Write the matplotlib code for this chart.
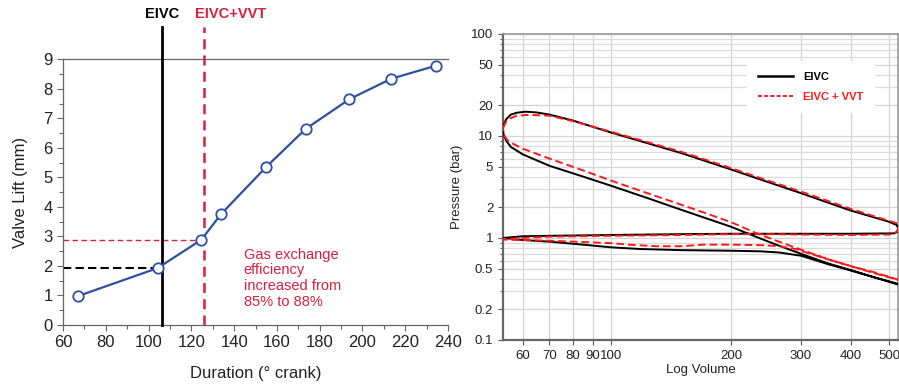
import matplotlib
matplotlib.use("Agg")
import matplotlib.pyplot as plt
from matplotlib.ticker import FixedLocator, NullFormatter, FixedFormatter, MultipleLocator
from matplotlib.lines import Line2D

plt.rcParams['font.family'] = ['Liberation Sans', 'DejaVu Sans']

# ---------------- Left panel data ----------------
duration = [67.0, 104.3, 124.7, 133.8, 154.8, 173.4, 193.9, 213.4, 234.2]
valve_lift = [0.98, 1.93, 2.89, 3.75, 5.34, 6.64, 7.65, 8.34, 8.78]
eivc_duration = 106.3
vvt_duration = 126.0
eivc_lift = 1.92
vvt_lift = 2.88
annotation = "Gas exchange\nefficiency\nincreased from\n85% to 88%"

# ---------------- Right panel data (p-V loops) ----------------
eivc_vol = [53.5, 54.5, 56, 58, 61, 65, 70, 80, 100, 150, 200, 237, 300, 398, 497, 522, 526, 524, 515,
            400, 300, 200, 150, 100, 70, 60, 55, 53.5,
            55, 60, 70, 85, 100, 118, 150, 200, 237, 265, 285, 300, 350, 400, 460, 526,
            526, 460, 400, 350, 300, 260, 237, 220, 200, 175, 150, 125, 100, 85, 70, 60, 56, 54.5, 53.7, 53.5, 53.5]
eivc_p = [12.3, 14.6, 16.2, 16.9, 17.3, 17.0, 16.2, 14.2, 10.8, 6.8, 4.7, 3.75, 2.75, 1.87, 1.45, 1.34, 1.25, 1.15, 1.11,
          1.10, 1.10, 1.10, 1.09, 1.07, 1.05, 1.04, 1.01, 1.0,
          0.99, 0.955, 0.92, 0.86, 0.81, 0.78, 0.76, 0.75, 0.74, 0.72, 0.69, 0.67, 0.555, 0.48, 0.41, 0.35,
          0.355, 0.41, 0.485, 0.565, 0.70, 0.86, 0.99, 1.11, 1.29, 1.54, 1.89, 2.42, 3.25, 4.0, 5.1, 6.6, 7.8, 9.0, 10.3, 11.5, 12.3]

vvt_vol = [53.5, 54.5, 56, 58, 62, 70, 80, 100, 150, 200, 237, 300, 400, 497, 524, 527, 525, 515, 500,
           400, 300, 250, 200, 150, 100, 70, 60, 55, 53.5,
           55, 60, 70, 100, 111, 130, 150, 170, 200, 240, 265, 290, 350, 400, 460, 526,
           526, 460, 400, 350, 300, 260, 230, 200, 175, 150, 125, 100, 85, 70, 60, 57, 55, 54, 53.5, 53.5]
vvt_p = [12.0, 13.8, 15.0, 15.8, 16.1, 15.8, 14.0, 11.0, 7.0, 4.85, 3.87, 2.85, 1.93, 1.48, 1.39, 1.3, 1.18, 1.1, 1.08,
         1.07, 1.08, 1.09, 1.09, 1.07, 1.05, 1.03, 1.0, 0.98, 0.97,
         0.96, 0.955, 0.94, 0.89, 0.86, 0.83, 0.83, 0.86, 0.86, 0.85, 0.83, 0.78, 0.62, 0.53, 0.46, 0.39,
         0.39, 0.45, 0.53, 0.62, 0.77, 0.94, 1.13, 1.43, 1.72, 2.12, 2.7, 3.65, 4.6, 6.0, 7.5, 8.3, 9.0, 10.0, 11.5, 12.0]

x_tick_vals = [60, 70, 80, 90, 100, 200, 300, 400, 500]
x_tick_labels = ["60", "70", "80", "90", "100", "200", "300", "400", "500"]
y_tick_vals = [0.1, 0.2, 0.5, 1, 2, 5, 10, 20, 50, 100]
y_tick_labels = ["0.1", "0.2", "0.5", "1", "2", "5", "10", "20", "50", "100"]

fig = plt.figure(figsize=(8.99, 3.84), dpi=100)

# ================= Left panel =================
ax1 = fig.add_axes([0.0701, 0.1536, 0.4283, 0.692])
blue = "#2F4EA6"
crimson = "#D8203C"
ax1.plot(duration, valve_lift, color=blue, lw=1.6, marker='o', ms=7.5,
         mfc='white', mec=blue, mew=1.3, zorder=4)
ax1.plot([eivc_duration, eivc_duration], [0, 10.1], color='black', lw=2, clip_on=False, zorder=3)
ax1.plot([vvt_duration, vvt_duration], [0, 10.1], color=crimson, lw=1.8, ls=(0, (4, 2.5)),
         clip_on=False, zorder=3)
ax1.plot([60, eivc_duration], [eivc_lift, eivc_lift], color='black', lw=1.5, ls=(0, (4, 2)), zorder=2)
ax1.plot([60, vvt_duration], [vvt_lift, vvt_lift], color=crimson, lw=1.0, ls=(0, (4, 2.5)), zorder=2)
ax1.text(eivc_duration, 10.54, "EIVC", ha='center', va='center', fontsize=10.5,
         fontweight='bold', color='black')
ax1.text(121.5, 10.54, "EIVC+VVT", ha='left', va='center', fontsize=10.5,
         fontweight='bold', color=crimson)
ax1.text(144.4, 2.62, annotation, ha='left', va='top', fontsize=10.5, color=crimson, linespacing=1.15)

ax1.set_xlim(60, 240)
ax1.set_ylim(0, 9)
ax1.xaxis.set_major_locator(MultipleLocator(20))
ax1.xaxis.set_minor_locator(MultipleLocator(10))
ax1.yaxis.set_major_locator(MultipleLocator(1))
ax1.yaxis.set_minor_locator(MultipleLocator(0.5))
ax1.tick_params(axis='both', which='major', direction='out', length=4, width=0.8,
                color='#666666', labelsize=12, labelcolor='#222222')
ax1.tick_params(axis='both', which='minor', direction='out', length=3, width=0.8, color='#666666')
for s in ['left', 'bottom', 'top']:
    ax1.spines[s].set_color('#666666')
    ax1.spines[s].set_linewidth(0.9)
ax1.spines['right'].set_visible(False)
ax1.set_xlabel("Duration (° crank)", fontsize=12, color='#222222', labelpad=11)
ax1.set_ylabel("Valve Lift (mm)", fontsize=12, color='#222222', labelpad=11)

# ================= Right panel =================
ax2 = fig.add_axes([0.5595, 0.1146, 0.4394, 0.797])
ax2.set_xscale('log')
ax2.set_yscale('log')
ax2.set_xlim(53.5, 526)
ax2.set_ylim(0.1, 100)

ax2.plot(eivc_vol, eivc_p, color='black', lw=1.4, zorder=3, label="EIVC")
ax2.plot(vvt_vol, vvt_p, color='#FF1A1A', lw=1.4, ls=(0, (4, 2)), zorder=4, label="EIVC + VVT")

ax2.xaxis.set_major_locator(FixedLocator(x_tick_vals))
ax2.xaxis.set_major_formatter(FixedFormatter(x_tick_labels))
ax2.xaxis.set_minor_locator(FixedLocator([]))
ax2.xaxis.set_minor_formatter(NullFormatter())
ax2.yaxis.set_major_locator(FixedLocator(y_tick_vals))
ax2.yaxis.set_major_formatter(FixedFormatter(y_tick_labels))
minor_y = [m * d for d in [0.1, 1, 10] for m in range(1, 10)]
minor_y = [v for v in minor_y if v not in y_tick_vals]
ax2.yaxis.set_minor_locator(FixedLocator(minor_y))
ax2.yaxis.set_minor_formatter(NullFormatter())

ax2.grid(True, which='major', color='#D4D4D4', lw=0.9)
ax2.grid(True, which='minor', axis='y', color='#DCDCDC', lw=0.9)
ax2.set_axisbelow(True)
ax2.tick_params(axis='both', which='major', direction='out', length=3.5, width=0.8,
                color='#555555', labelsize=9.5, labelcolor='#222222')
ax2.tick_params(axis='y', which='minor', direction='out', length=2, width=0.7, color='#555555')
for s in ['left', 'bottom']:
    ax2.spines[s].set_color('#666666')
    ax2.spines[s].set_linewidth(1.6)
for s in ['top', 'right']:
    ax2.spines[s].set_color('#999999')
    ax2.spines[s].set_linewidth(1.2)
ax2.set_xlabel("Log Volume", fontsize=9.5, color='#222222', labelpad=2)
ax2.set_ylabel("Pressure (bar)", fontsize=9.5, color='#222222', labelpad=6)

handles = [Line2D([], [], color='black', lw=1.8),
           Line2D([], [], color='#FF1A1A', lw=1.4, ls=(0, (2, 1.2)))]
leg = ax2.legend(handles, ["EIVC", "EIVC + VVT"], loc='upper right', bbox_to_anchor=(0.955, 0.93),
                 frameon=True, fancybox=False, edgecolor='none', facecolor='white', framealpha=1,
                 prop={'weight': 'bold', 'size': 8}, handlelength=3.2, borderpad=1.0,
                 labelspacing=0.9, handletextpad=0.9)
for t, c in zip(leg.get_texts(), ['black', '#FF1A1A']):
    t.set_color(c)

fig.savefig("out.png", dpi=100)
